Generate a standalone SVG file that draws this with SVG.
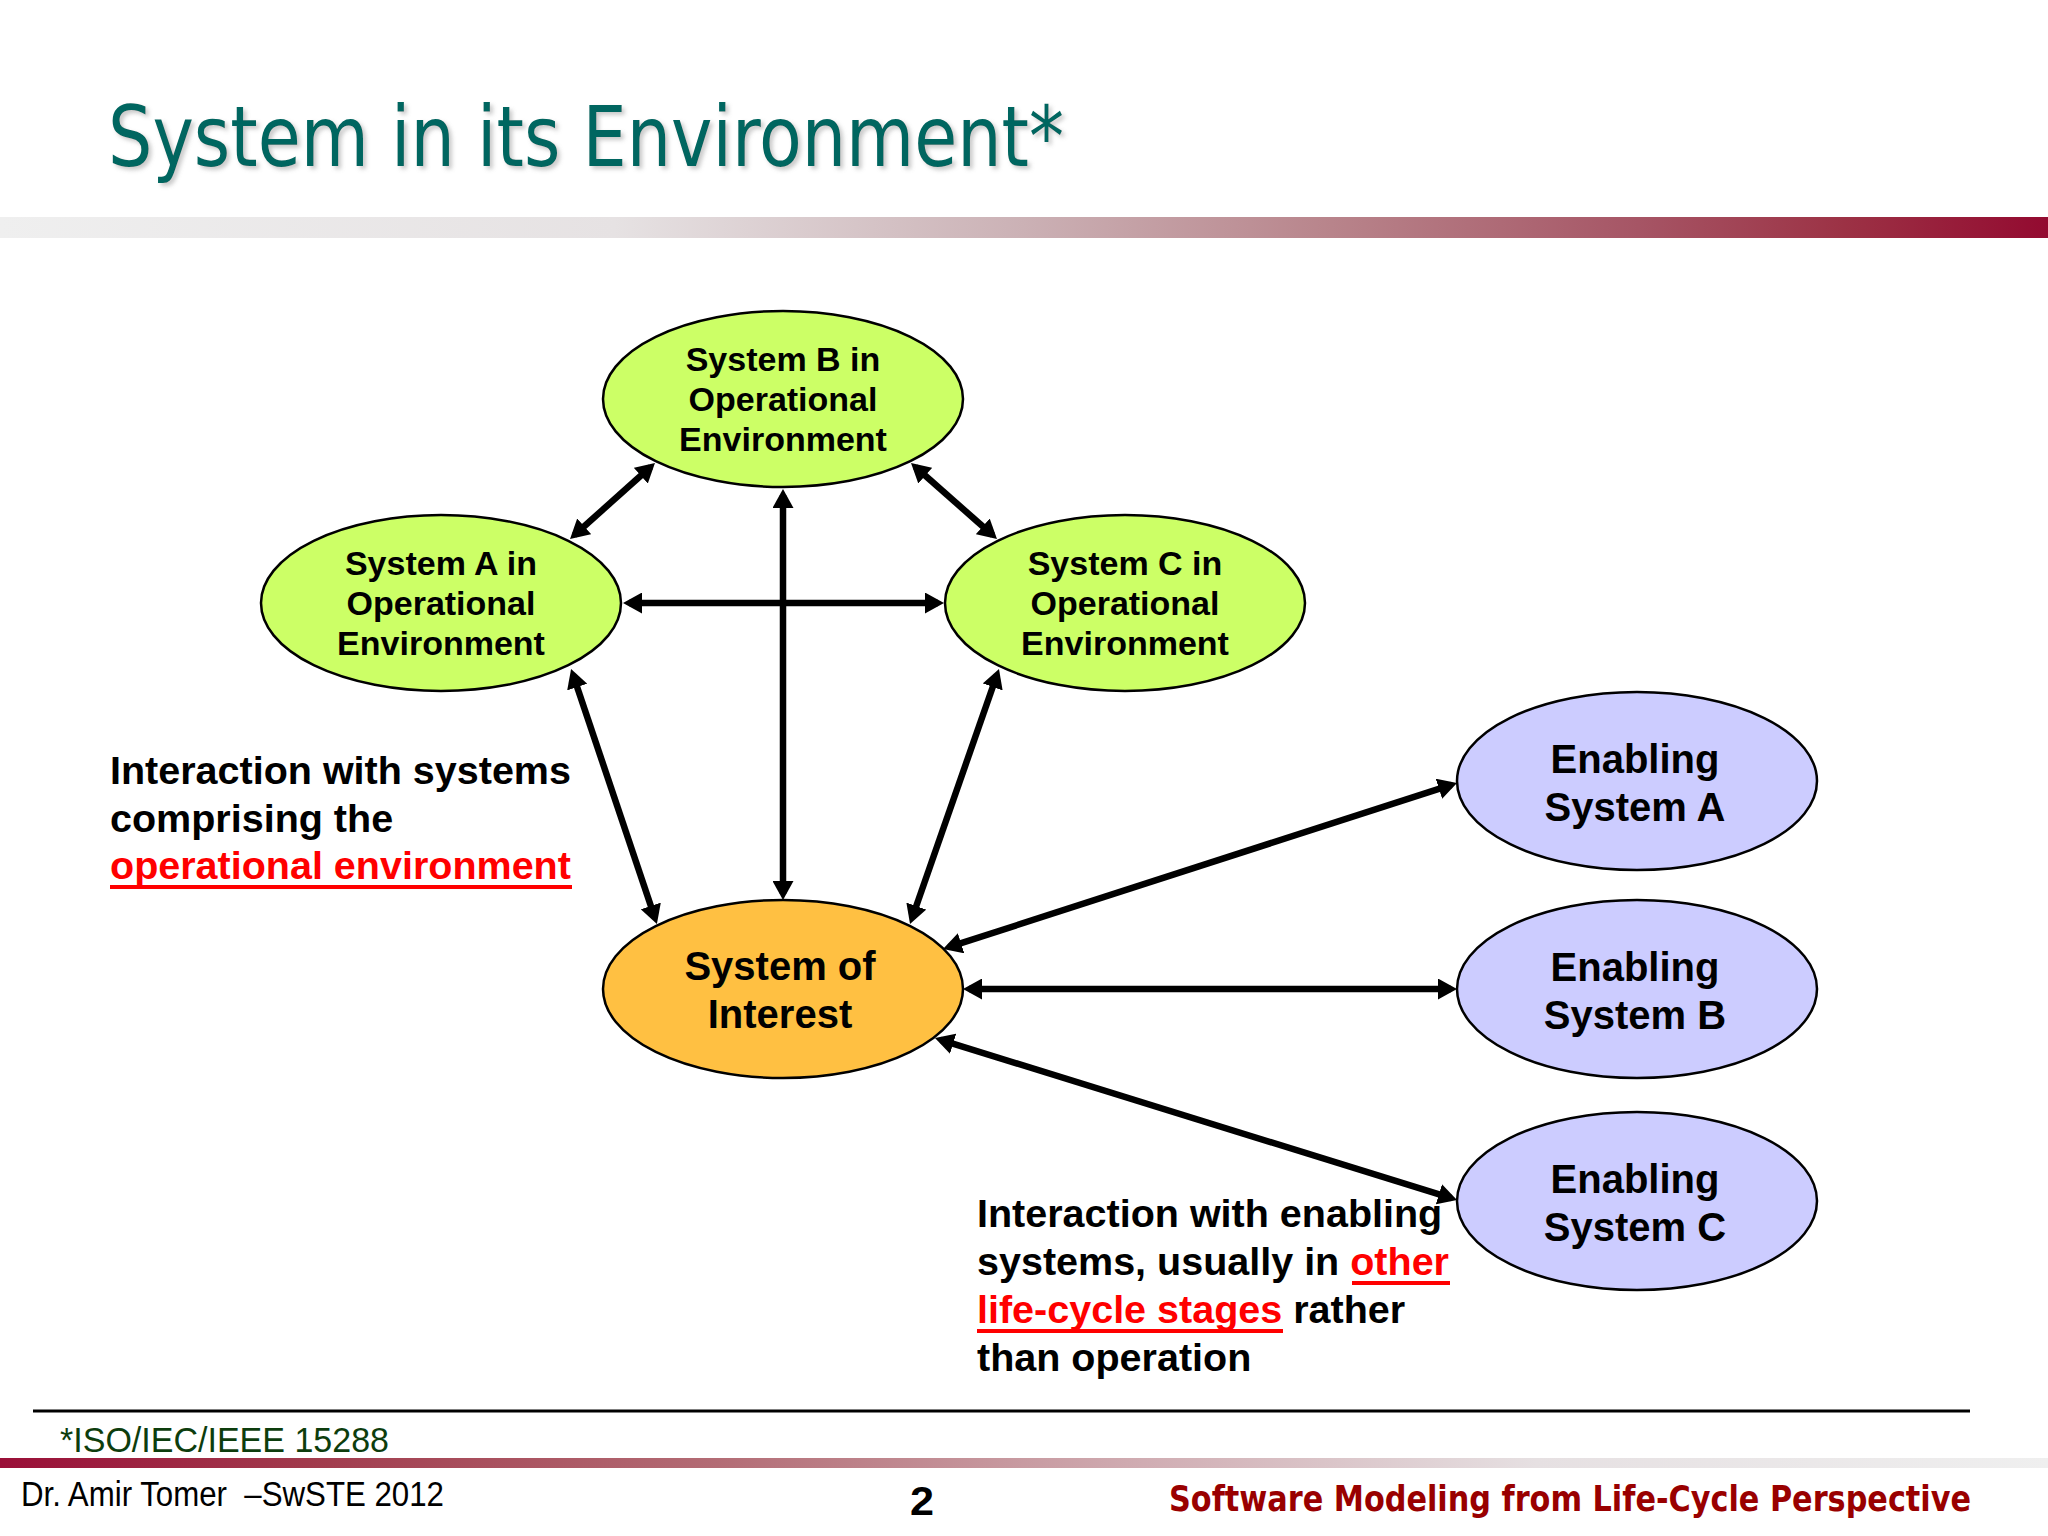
<svg xmlns="http://www.w3.org/2000/svg" width="2048" height="1536" viewBox="0 0 2048 1536">
<defs>
<linearGradient id="topbar" x1="0" y1="0" x2="1" y2="0">
<stop offset="0" stop-color="#efefef"/>
<stop offset="0.3" stop-color="#e6e2e3"/>
<stop offset="0.5" stop-color="#cbb1b5"/>
<stop offset="0.65" stop-color="#b8848b"/>
<stop offset="0.8" stop-color="#a65565"/>
<stop offset="0.9" stop-color="#9c3245"/>
<stop offset="1" stop-color="#930a30"/>
</linearGradient>
<linearGradient id="botbar" x1="0" y1="0" x2="1" y2="0">
<stop offset="0" stop-color="#9a0f38"/>
<stop offset="0.15" stop-color="#a13a4c"/>
<stop offset="0.35" stop-color="#b36c75"/>
<stop offset="0.55" stop-color="#cfaab0"/>
<stop offset="0.75" stop-color="#e6e0e2"/>
<stop offset="1" stop-color="#efefef"/>
</linearGradient>
<filter id="shadow" x="-5%" y="-20%" width="110%" height="150%">
<feDropShadow dx="3" dy="3" stdDeviation="2" flood-color="#888888" flood-opacity="0.45"/>
</filter>
<marker id="arr" viewBox="0 0 19 21" refX="13" refY="10.5" markerWidth="19" markerHeight="21" markerUnits="userSpaceOnUse" orient="auto-start-reverse">
<path d="M0,0 L19,10.5 L0,21 z" fill="#000"/>
</marker>
</defs>
<style>
.node ellipse{stroke:#000;stroke-width:2.5}
.green{fill:#ccff66}
.orange{fill:#ffc042}
.lav{fill:#ccccff}
.nt{font-family:"Liberation Sans",Arial,sans-serif;font-weight:bold;fill:#000;text-anchor:middle}
.n34{font-size:34px}
.n40{font-size:40px}
.conn line{stroke:#000;stroke-width:6.5;marker-start:url(#arr);marker-end:url(#arr)}
.note{font-family:"Liberation Sans",Arial,sans-serif;font-weight:bold;font-size:39.5px;fill:#000}
.red{fill:#ff0000}
.ul{stroke:#ff0000;stroke-width:4}
</style>
<rect width="2048" height="1536" fill="#ffffff"/>

<text x="108" y="166" font-family="'DejaVu Sans Condensed','DejaVu Sans',Tahoma,sans-serif" font-size="84" fill="#006660" textLength="956" lengthAdjust="spacingAndGlyphs" filter="url(#shadow)">System in its Environment*</text>
<rect x="0" y="217" width="2048" height="21" fill="url(#topbar)"/>

<g id="connectors" class="conn">
<line x1="574.5" y1="535" x2="650.5" y2="467"/>
<line x1="915.5" y1="467" x2="992.5" y2="535"/>
<line x1="629" y1="603" x2="938" y2="603"/>
<line x1="783" y1="495" x2="783" y2="894"/>
<line x1="573" y1="674.7" x2="655" y2="918.3"/>
<line x1="997" y1="674.7" x2="912" y2="918.3"/>
<line x1="948.7" y1="947.2" x2="1451.3" y2="784.8"/>
<line x1="969" y1="989" x2="1451" y2="989"/>
<line x1="940.7" y1="1039.8" x2="1451.3" y2="1198.2"/>
</g>

<g id="sysB" class="node">
<ellipse class="green" cx="783" cy="399" rx="180" ry="88"/>
<text class="nt n34" x="783" y="371">System B in</text>
<text class="nt n34" x="783" y="411">Operational</text>
<text class="nt n34" x="783" y="451">Environment</text>
</g>
<g id="sysA" class="node">
<ellipse class="green" cx="441" cy="603" rx="180" ry="88"/>
<text class="nt n34" x="441" y="575">System A in</text>
<text class="nt n34" x="441" y="615">Operational</text>
<text class="nt n34" x="441" y="655">Environment</text>
</g>
<g id="sysC" class="node">
<ellipse class="green" cx="1125" cy="603" rx="180" ry="88"/>
<text class="nt n34" x="1125" y="575">System C in</text>
<text class="nt n34" x="1125" y="615">Operational</text>
<text class="nt n34" x="1125" y="655">Environment</text>
</g>
<g id="soi" class="node">
<ellipse class="orange" cx="783" cy="989" rx="180" ry="89"/>
<text class="nt n40" x="780" y="980">System of</text>
<text class="nt n40" x="780" y="1028">Interest</text>
</g>
<g id="enA" class="node">
<ellipse class="lav" cx="1637" cy="781" rx="180" ry="89"/>
<text class="nt n40" x="1635" y="773">Enabling</text>
<text class="nt n40" x="1635" y="821">System A</text>
</g>
<g id="enB" class="node">
<ellipse class="lav" cx="1637" cy="989" rx="180" ry="89"/>
<text class="nt n40" x="1635" y="981">Enabling</text>
<text class="nt n40" x="1635" y="1029">System B</text>
</g>
<g id="enC" class="node">
<ellipse class="lav" cx="1637" cy="1201" rx="180" ry="89"/>
<text class="nt n40" x="1635" y="1193">Enabling</text>
<text class="nt n40" x="1635" y="1241">System C</text>
</g>

<g id="note-operational">
<text class="note" x="110" y="784">Interaction with systems</text>
<text class="note" x="110" y="832">comprising the</text>
<text class="note red" x="110" y="879">operational environment</text>
<line class="ul" x1="110" y1="887" x2="572" y2="887"/>
</g>
<g id="note-enabling">
<text class="note" x="977" y="1227">Interaction with enabling</text>
<text class="note" x="977" y="1275">systems, usually in <tspan class="red">other</tspan></text>
<text class="note" x="977" y="1323"><tspan class="red">life-cycle stages</tspan> rather</text>
<text class="note" x="977" y="1371">than operation</text>
<line class="ul" x1="1352" y1="1283" x2="1450" y2="1283"/>
<line class="ul" x1="977" y1="1331" x2="1283" y2="1331"/>
</g>

<line x1="33" y1="1411" x2="1970" y2="1411" stroke="#000" stroke-width="3"/>
<text x="60" y="1452" font-family="'Liberation Sans Narrow','Liberation Sans',Arial,sans-serif" font-size="35" fill="#0d3d0d" textLength="329" lengthAdjust="spacingAndGlyphs">*ISO/IEC/IEEE 15288</text>
<rect x="0" y="1458" width="2048" height="10" fill="url(#botbar)"/>
<text x="21" y="1506" font-family="'Liberation Sans Narrow','Liberation Sans',Arial,sans-serif" font-size="35" fill="#000" textLength="423" lengthAdjust="spacingAndGlyphs">Dr. Amir Tomer&#160; –SwSTE 2012</text>
<text x="910" y="1515" font-family="'Liberation Sans Narrow','Liberation Sans',Arial,sans-serif" font-weight="bold" font-size="40" fill="#000" textLength="24" lengthAdjust="spacingAndGlyphs">2</text>
<text x="1169" y="1511" font-family="'DejaVu Sans Condensed','DejaVu Sans',Tahoma,sans-serif" font-weight="bold" font-size="36" fill="#990000" textLength="802" lengthAdjust="spacingAndGlyphs">Software Modeling from Life-Cycle Perspective</text>
</svg>
